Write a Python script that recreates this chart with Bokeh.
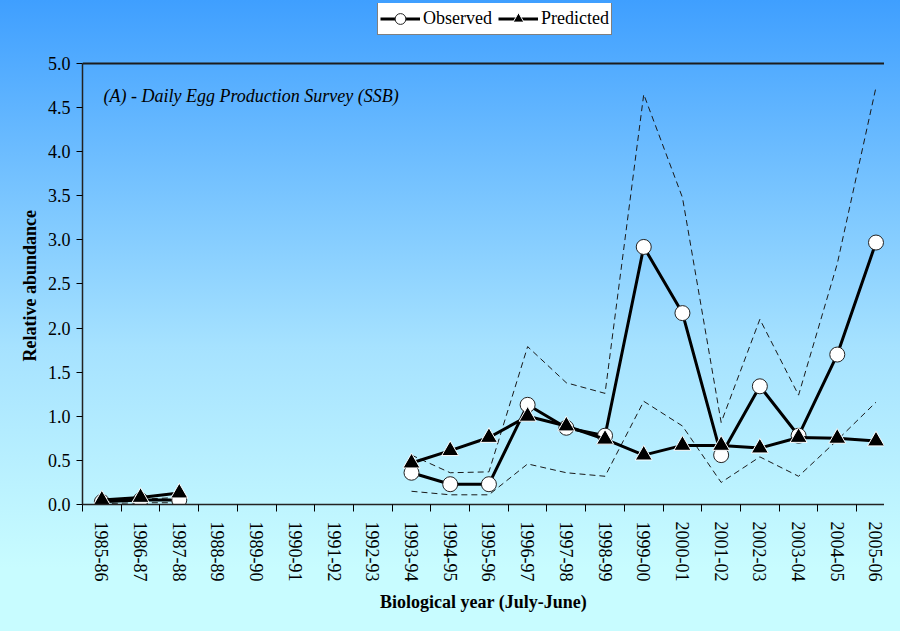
import numpy as np
from bokeh.plotting import figure
from bokeh.models import (Range1d, FixedTicker, SingleIntervalTicker, NumeralTickFormatter,
                          Legend, LegendItem, Label, Span, Title, ColumnDataSource,
                          GlobalInlineStyleSheet)
from bokeh.embed import file_html
from bokeh.resources import INLINE

nan = float("nan")

years = ["1985-86", "1986-87", "1987-88", "1988-89", "1989-90", "1990-91", "1991-92",
         "1992-93", "1993-94", "1994-95", "1995-96", "1996-97", "1997-98", "1998-99",
         "1999-00", "2000-01", "2001-02", "2002-03", "2003-04", "2004-05", "2005-06"]

observed = [0.03, 0.05, 0.05, nan, nan, nan, nan, nan,
            0.36, 0.23, 0.23, 1.13, 0.87, 0.78, 2.92, 2.17, 0.56, 1.34, 0.78, 1.70, 2.97]
predicted = [0.05, 0.08, 0.13, nan, nan, nan, nan, nan,
             0.47, 0.61, 0.76, 1.00, 0.89, 0.74, 0.56, 0.67, 0.67, 0.64, 0.76, 0.75, 0.72]
upper = [0.05, 0.06, 0.08, nan, nan, nan, nan, nan,
         0.56, 0.36, 0.37, 1.79, 1.38, 1.26, 4.65, 3.48, 0.93, 2.10, 1.24, 2.73, 4.73]
lower = [0.01, 0.02, 0.02, nan, nan, nan, nan, nan,
         0.15, 0.11, 0.11, 0.46, 0.36, 0.32, 1.17, 0.89, 0.25, 0.54, 0.32, 0.73, 1.16]

FONT = "Liberation Serif"

xs = list(range(len(years)))
src = ColumnDataSource(dict(
    x=np.array(xs, dtype=float),
    obs=np.array(observed, dtype=float),
    pred=np.array(predicted, dtype=float),
    up=np.array(upper, dtype=float),
    lo=np.array(lower, dtype=float),
))

W, H = 884, 615
TOP, LEFT, BOTTOM = 3, 82, 111
FRAME_H = H - TOP - BOTTOM   # 501 px; axis 0..5 occupies the lower 441 px
Y_END = 5.68                 # headroom above 5.0 holds the legend

p = figure(width=W, height=H,
           x_range=Range1d(-0.5, 20.22), y_range=Range1d(0, Y_END),
           output_backend="svg", toolbar_location=None,
           min_border_left=LEFT, min_border_right=0, min_border_top=TOP,
           min_border_bottom=BOTTOM)
p.background_fill_color = None
p.border_fill_color = None
p.outline_line_color = None
p.grid.visible = False

p.stylesheets = [GlobalInlineStyleSheet(css=(
    "html{min-height:100%;background:linear-gradient(to bottom,#3F9FFF 0%,#A6E2FF 55%,#C8FCFF 90%,#C8FCFF 100%);}"
    "body{background:transparent;}"))]

# confidence bounds (dashed)
p.line("x", "up", source=src, line_color="#1a1a1a", line_width=1, line_dash="6 4")
p.line("x", "lo", source=src, line_color="#1a1a1a", line_width=1, line_dash="6 4")

# observed
r_obs_l = p.line("x", "obs", source=src, line_color="black", line_width=3)
r_obs_m = p.scatter("x", "obs", source=src, marker="circle", size=15,
                    fill_color="white", line_color="#222222", line_width=1)
# predicted
r_pred_l = p.line("x", "pred", source=src, line_color="black", line_width=3)
r_pred_m = p.scatter("x", "pred", source=src, marker="triangle", size=17,
                     fill_color="black", line_color="white", line_width=1)

# top border of plot area (at 5.0)
p.add_layout(Span(location=5, dimension="width", line_color="#1c1c1c", line_width=2))

# x axis
xa = p.xaxis[0]
xa.ticker = FixedTicker(ticks=xs, minor_ticks=[i - 0.5 for i in range(len(years) + 1)])
xa.major_label_overrides = {i: y for i, y in enumerate(years)}
xa.major_tick_out = 0
xa.major_tick_in = 0
xa.minor_tick_out = 7
xa.minor_tick_in = 0
xa.minor_tick_line_color = "black"
xa.axis_line_color = "#222222"
xa.axis_line_width = 1.5
xa.major_label_orientation = "vertical"
xa.major_label_standoff = 10
xa.major_label_text_font = FONT
xa.major_label_text_font_size = "18px"
xa.major_label_text_color = "black"
xa.axis_label = "Biological year (July-June)"
xa.axis_label_text_font = FONT
xa.axis_label_text_font_style = "bold"
xa.axis_label_text_font_size = "18px"
xa.axis_label_text_color = "black"
xa.axis_label_standoff = 8

# y axis
ya = p.yaxis[0]
ya.bounds = (0, 5)
ya.ticker = SingleIntervalTicker(interval=0.5, num_minor_ticks=0)
ya.formatter = NumeralTickFormatter(format="0.0")
ya.major_tick_out = 6
ya.major_tick_in = 0
ya.major_tick_line_color = "black"
ya.minor_tick_line_color = None
ya.axis_line_color = "#222222"
ya.axis_line_width = 1.5
ya.major_label_standoff = 6
ya.major_label_text_font = FONT
ya.major_label_text_font_size = "18px"
ya.major_label_text_color = "black"

# y axis title, centred on the 0..5 part of the axis
p.add_layout(Title(text="Relative abundance", align="left", offset=143, standoff=10,
                   text_font=FONT, text_font_style="bold", text_font_size="18px",
                   text_color="black"), "left")

# panel title annotation
p.add_layout(Label(x=21, y=409, x_units="screen", y_units="screen",
                   text="(A) - Daily Egg Production Survey (SSB)",
                   text_font=FONT, text_font_style="italic", text_font_size="18px",
                   text_color="black", text_baseline="middle"))

legend = Legend(items=[LegendItem(label="Observed", renderers=[r_obs_l, r_obs_m]),
                       LegendItem(label="Predicted", renderers=[r_pred_l, r_pred_m])],
                location=(295, FRAME_H - 32), orientation="horizontal",
                label_text_font=FONT, label_text_font_size="18px", label_text_color="black",
                glyph_width=40, glyph_height=27, label_height=27, label_standoff=3,
                spacing=6, padding=2, margin=0,
                border_line_color="black", border_line_width=1,
                background_fill_color="white", background_fill_alpha=1)
p.add_layout(legend)

open("out.html", "w").write(file_html(p, INLINE))
